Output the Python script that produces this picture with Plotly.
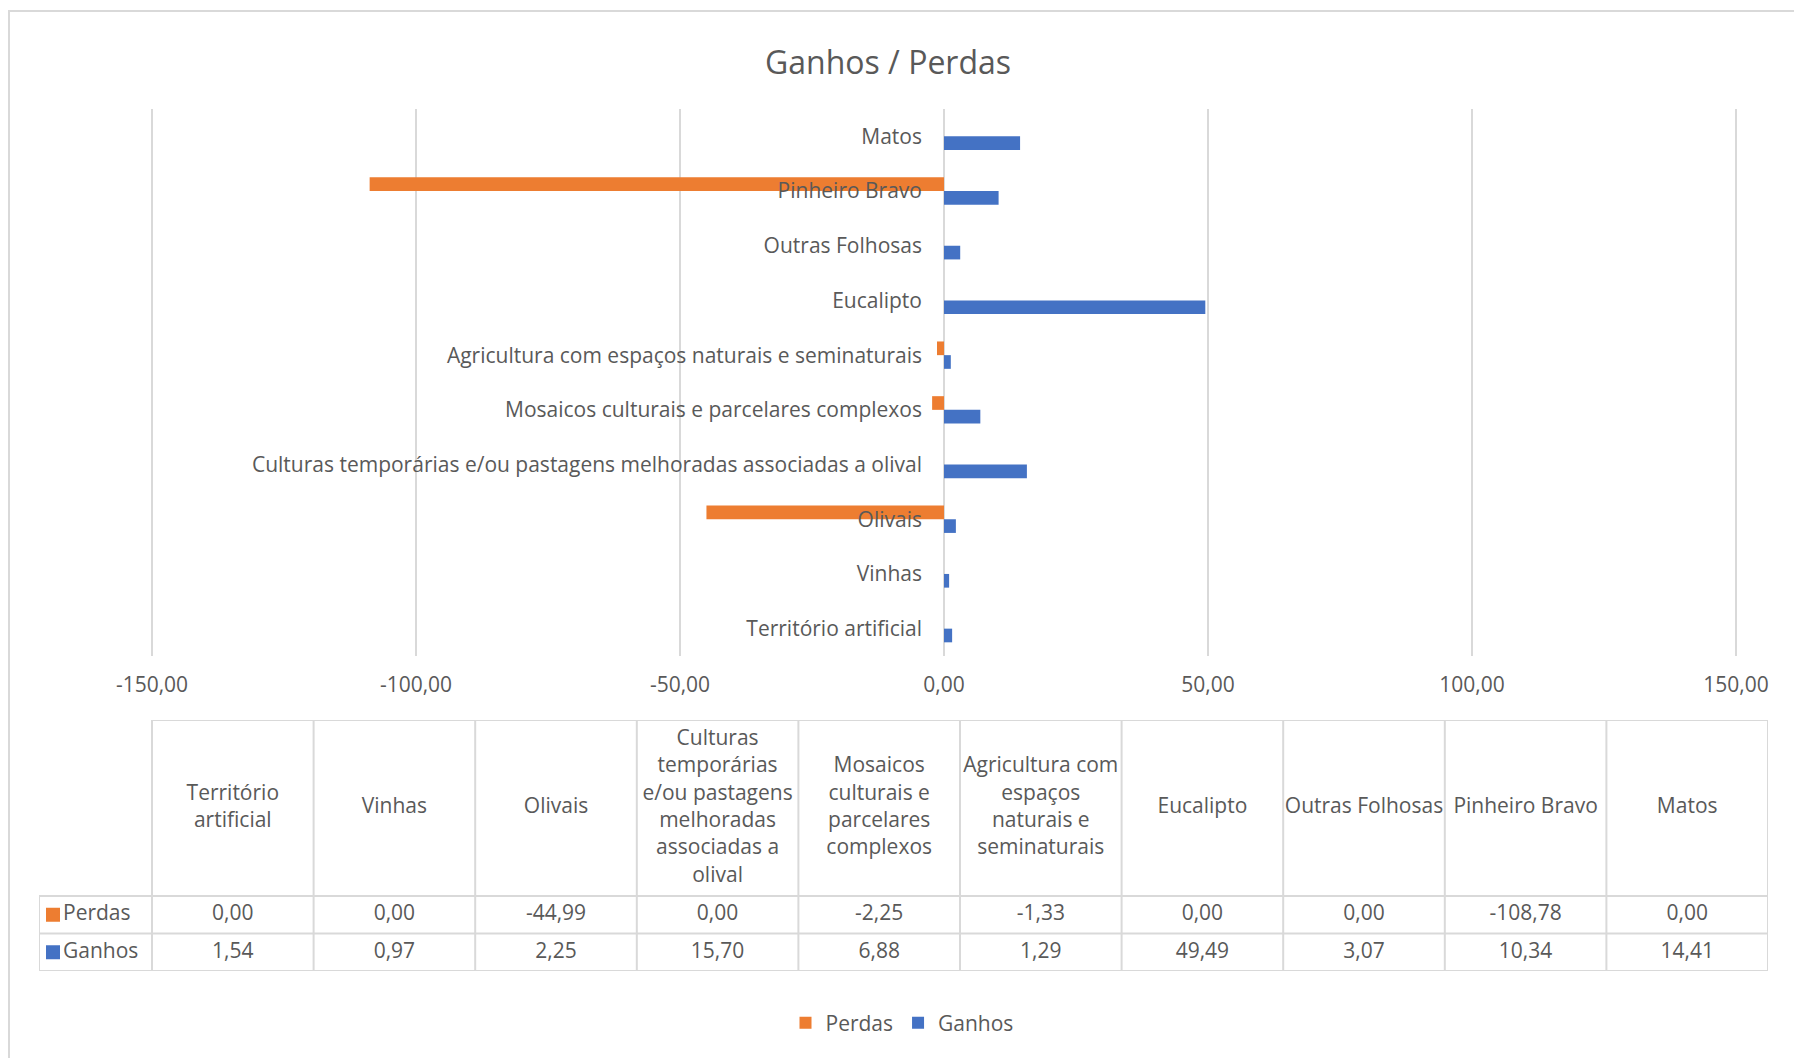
import plotly.graph_objects as go

# ---- data ----
categories = [
    "Território artificial",
    "Vinhas",
    "Olivais",
    "Culturas temporárias e/ou pastagens melhoradas associadas a olival",
    "Mosaicos culturais e parcelares complexos",
    "Agricultura com espaços naturais e seminaturais",
    "Eucalipto",
    "Outras Folhosas",
    "Pinheiro Bravo",
    "Matos",
]
table_headers = [
    "Território<br>artificial",
    "Vinhas",
    "Olivais",
    "Culturas<br>temporárias<br>e/ou pastagens<br>melhoradas<br>associadas a<br>olival",
    "Mosaicos<br>culturais e<br>parcelares<br>complexos",
    "Agricultura com<br>espaços<br>naturais e<br>seminaturais",
    "Eucalipto",
    "Outras Folhosas",
    "Pinheiro Bravo",
    "Matos",
]
perdas = [0.00, 0.00, -44.99, 0.00, -2.25, -1.33, 0.00, 0.00, -108.78, 0.00]
ganhos = [1.54, 0.97, 2.25, 15.70, 6.88, 1.29, 49.49, 3.07, 10.34, 14.41]
x_ticks = [-150, -100, -50, 0, 50, 100, 150]
series_names = ["Perdas", "Ganhos"]
series_colors = ["#ED7D31", "#4472C4"]

# ---- layout constants (pixels of a 1794x1058 canvas) ----
W, H = 1794, 1058
FONT = "Open Sans"
FS = 21
TXT = "#595959"
GRID = "#D9D9D9"


def fmt(v):
    return f"{v:.2f}".replace(".", ",")


def px_x(p):
    return p / W


def px_y(p):
    return 1 - p / H


# value axis: -150 at 152 px, 150 at 1736 px; range padded slightly so edge gridlines show
x_min, x_max = x_ticks[0], x_ticks[-1]
pad = 0.5
px_per_unit = (1736 - 152) / (x_max - x_min)
r0, r1 = x_min - pad, x_max + pad
plot_x0 = px_x(152 - pad * px_per_unit)
plot_x1 = px_x(1736 + pad * px_per_unit)
zero_pos = px_x(152 + (0 - x_min) * px_per_unit)

fig = go.Figure()
# trace order: Ganhos first -> drawn lower in each category group
fig.add_trace(go.Bar(
    y=categories, x=ganhos, orientation="h", name=series_names[1],
    marker=dict(color=series_colors[1], line=dict(width=0)),
    hoverinfo="x+y",
))
fig.add_trace(go.Bar(
    y=categories, x=perdas, orientation="h", name=series_names[0],
    marker=dict(color=series_colors[0], line=dict(width=0)),
    hoverinfo="x+y",
))

# ---- data table under the chart (second pair of axes) ----
ncol = len(categories)
col_px = 161.6
label_col_w = 113 / col_px
header_h = 176 / 37.5
row_vals = [perdas, ganhos]          # top row = Perdas, bottom row = Ganhos
row_y = [1.5, 0.5]
header_y = 2 + header_h / 2

fig.add_trace(go.Scatter(
    x=list(range(ncol)), y=[header_y] * ncol, text=table_headers,
    mode="text", textposition="middle center",
    textfont=dict(family=FONT, size=FS, color=TXT),
    xaxis="x2", yaxis="y2", showlegend=False, hoverinfo="skip", cliponaxis=False,
))
for vals, yy in zip(row_vals, row_y):
    fig.add_trace(go.Scatter(
        x=list(range(ncol)), y=[yy] * ncol, text=[fmt(v) for v in vals],
        mode="text", textposition="middle center",
        textfont=dict(family=FONT, size=FS, color=TXT),
        xaxis="x2", yaxis="y2", showlegend=False, hoverinfo="skip", cliponaxis=False,
    ))
left = -0.5 - label_col_w
key_x = left + 14 / col_px
fig.add_trace(go.Scatter(
    x=[key_x, key_x], y=row_y,
    mode="markers",
    marker=dict(symbol="square", size=14, color=series_colors, line=dict(width=0)),
    xaxis="x2", yaxis="y2", showlegend=False, hoverinfo="skip", cliponaxis=False,
))
fig.add_trace(go.Scatter(
    x=[left + 24 / col_px] * 2, y=row_y, text=series_names,
    mode="text", textposition="middle right",
    textfont=dict(family=FONT, size=FS, color=TXT),
    xaxis="x2", yaxis="y2", showlegend=False, hoverinfo="skip", cliponaxis=False,
))

shapes = []
line = dict(color=GRID, width=2)
right = ncol - 0.5
top = 2 + header_h
for yy in [0, 1, 2]:
    shapes.append(dict(type="line", xref="x2", yref="y2", x0=left, x1=right, y0=yy, y1=yy, line=line))
shapes.append(dict(type="line", xref="x2", yref="y2", x0=-0.5, x1=right, y0=top, y1=top, line=line))
shapes.append(dict(type="line", xref="x2", yref="y2", x0=left, x1=left, y0=0, y1=2, line=line))
for i in range(ncol + 1):
    xx = i - 0.5
    shapes.append(dict(type="line", xref="x2", yref="y2", x0=xx, x1=xx, y0=0, y1=top, line=line))
# chart frame
shapes.append(dict(type="rect", xref="paper", yref="paper",
                   x0=px_x(9), x1=px_x(1810), y0=px_y(1075), y1=px_y(11),
                   line=dict(color=GRID, width=2), fillcolor="rgba(0,0,0,0)", layer="below"))

fig.update_layout(
    width=W, height=H,
    margin=dict(l=0, r=0, t=0, b=0, pad=0, autoexpand=False),
    paper_bgcolor="white", plot_bgcolor="white",
    font=dict(family=FONT, size=FS, color=TXT),
    title=dict(text="Ganhos / Perdas", x=px_x(888), xanchor="center",
               y=px_y(63), yanchor="middle",
               font=dict(family=FONT, size=32, color=TXT)),
    barmode="group", bargap=0.5, bargroupgap=0,
    showlegend=True,
    legend=dict(orientation="h", x=px_x(902), xanchor="center", y=px_y(1023), yanchor="middle",
                traceorder="reversed", font=dict(family=FONT, size=FS, color=TXT),
                itemwidth=30),
    xaxis=dict(domain=[plot_x0, plot_x1], range=[r0, r1],
               tickmode="array", tickvals=x_ticks, ticktext=[fmt(v) for v in x_ticks],
               showgrid=True, gridcolor=GRID, gridwidth=1.5, zeroline=False,
               showline=False, ticks="", ticklabelstandoff=14, automargin=False,
               tickfont=dict(family=FONT, size=FS, color=TXT), anchor="y"),
    yaxis=dict(domain=[px_y(656), px_y(109)], range=[-0.5, len(categories) - 0.5],
               type="category", categoryorder="array", categoryarray=categories,
               anchor="free", position=zero_pos, showgrid=False, zeroline=False,
               showline=False, ticks="", ticklabelstandoff=22, automargin=False,
               tickfont=dict(family=FONT, size=FS, color=TXT)),
    xaxis2=dict(domain=[px_x(39), px_x(1768)], range=[left, right], visible=False,
                anchor="y2", automargin=False),
    yaxis2=dict(domain=[px_y(971), px_y(720)], range=[0, top], visible=False,
                anchor="x2", automargin=False),
    shapes=shapes,
)

fig.write_html("out.html")
